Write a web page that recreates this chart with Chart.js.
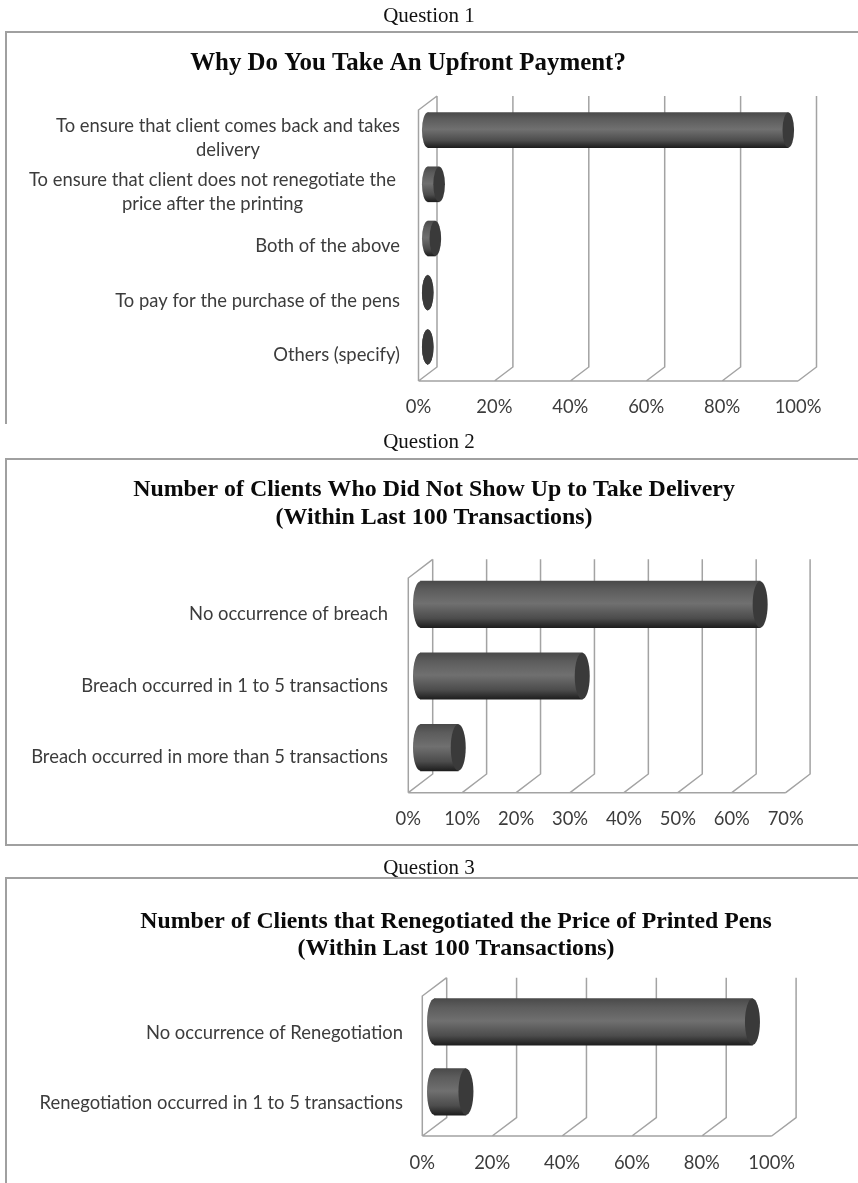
<!DOCTYPE html>
<html><head><meta charset="utf-8">
<script src="https://cdn.jsdelivr.net/npm/chart.js@4"></script>
<style>
html,body{margin:0;padding:0;background:#fff;overflow:hidden}
body{position:relative;width:858px;height:1183px}
.q{position:absolute;left:380px;width:98px;text-align:center;font:21px "Liberation Serif",serif;color:#111;line-height:24px;filter:blur(.35px)}
.frame{position:absolute;left:5px;right:-4px;border-left:2px solid #a0a0a0;border-top:2px solid #a0a0a0;box-sizing:border-box}
canvas{position:absolute;left:0;display:block;filter:blur(.35px)}
</style></head><body>
<div class="q" style="top:3px">Question 1</div>
<div class="q" style="top:429px">Question 2</div>
<div class="q" style="top:855px">Question 3</div>
<div class="frame" style="top:31px;height:393px"></div>
<div class="frame" style="top:458px;height:388px;border-bottom:2px solid #a0a0a0"></div>
<div class="frame" style="top:877px;height:306px"></div>
<canvas id="c1" width="858" height="392" style="top:32px"></canvas>
<canvas id="c2" width="858" height="386" style="top:459px"></canvas>
<canvas id="c3" width="858" height="305" style="top:878px"></canvas>
<script>
const titles1 = ["Why Do You Take An Upfront Payment?"];
const categories1 = [
  ["To ensure that client comes back and takes", "delivery"],
  ["To ensure that client does not renegotiate the", "price after the printing"],
  "Both of the above",
  "To pay for the purchase of the pens",
  "Others (specify)"
];
const values1 = [95, 3, 2, 0, 0];

const titles2 = ["Number of Clients Who Did Not Show Up to Take Delivery", "(Within Last 100 Transactions)"];
const categories2 = [
  "No occurrence of breach",
  "Breach occurred in 1 to 5 transactions",
  "Breach occurred in more than 5 transactions"
];
const values2 = [63, 30, 7];

const titles3 = ["Number of Clients that Renegotiated the Price of Printed Pens", "(Within Last 100 Transactions)"];
const categories3 = [
  "No occurrence of Renegotiation",
  "Renegotiation occurred in 1 to 5 transactions"
];
const values3 = [91, 9];

const LINE = "#a3a3a3", TEXT = "#3c3c3c", CAP = "#3a3a3a";
const FONT = "Lato";

function barGradient(ctx, y, h) {
  const g = ctx.createLinearGradient(0, y - h / 2, 0, y + h / 2);
  g.addColorStop(0, "#4a4a4a");
  g.addColorStop(0.18, "#5c5c5c");
  g.addColorStop(0.48, "#707070");
  g.addColorStop(0.8, "#4c4c4c");
  g.addColorStop(1, "#1e1e1e");
  return g;
}

function make(id, title, categories, values, cfg) {
  const canvas = document.getElementById(id);
  const H = canvas.height, W = canvas.width;
  const p = cfg.plot;
  const xAxisH = 40;
  const padRight = W - p.right;
  const padLeft = 2 * cfg.titleX - p.right;
  const titleLines = title.length * cfg.titleSize * cfg.titleLH;
  const titlePadTop = cfg.titleY - cfg.titleSize * cfg.titleLH / 2;

  const wall = {
    id: "wall",
    beforeDatasetsDraw(chart) {
      const c = chart.ctx, x = chart.scales.x, a = chart.chartArea;
      c.save();
      c.strokeStyle = LINE; c.lineWidth = 1.5; c.lineJoin = "miter";
      c.beginPath();
      c.moveTo(a.left, a.bottom); c.lineTo(a.right, a.bottom);
      c.moveTo(a.left, a.bottom); c.lineTo(a.left, a.top); c.lineTo(a.left + cfg.dx, a.top - cfg.dy);
      x.ticks.forEach(t => {
        const px = x.getPixelForValue(t.value);
        c.moveTo(px, a.bottom);
        c.lineTo(px + cfg.dx, a.bottom - cfg.dy);
        c.lineTo(px + cfg.dx, a.top - cfg.dy);
      });
      c.stroke();
      c.restore();
      // bars stand halfway through the depth of the floor
      c.save();
      c.translate(cfg.dx / 2, -cfg.dy / 2);
      chart.getDatasetMeta(0).data.forEach(el => {
        c.fillStyle = barGradient(c, el.y, cfg.thick);
        c.beginPath();
        c.ellipse(el.base, el.y, cfg.rx, cfg.thick / 2, 0, 0, Math.PI * 2);
        c.fill();
      });
    },
    afterDatasetsDraw(chart) {
      const c = chart.ctx;
      chart.getDatasetMeta(0).data.forEach(el => {
        c.fillStyle = CAP;
        c.beginPath();
        c.ellipse(el.x, el.y, cfg.rx, cfg.thick / 2, 0, 0, Math.PI * 2);
        c.fill();
      });
      c.restore();
      // category labels: right aligned blocks, each line centred in its block
      const y = chart.scales.y;
      c.save();
      c.font = cfg.labelSize + "px " + FONT;
      c.fillStyle = TEXT;
      c.textBaseline = "middle";
      c.textAlign = "center";
      y.ticks.forEach(t => {
        const raw = categories[t.value];
        const lines = Array.isArray(raw) ? raw : [raw];
        const w = Math.max(...lines.map(s => c.measureText(s).width));
        const cx = cfg.labelRight - w / 2 - (lines.length > 1 ? cfg.multiShift * t.value : 0);
        const py = y.getPixelForTick(t.value) + cfg.labelDy;
        lines.forEach((s, i) => c.fillText(s, cx, py + (i - (lines.length - 1) / 2) * cfg.labelLH));
      });
      c.restore();
    }
  };

  return new Chart(canvas, {
    type: "bar",
    plugins: [wall],
    data: {
      labels: categories,
      datasets: [{
        data: values,
        barThickness: cfg.thick,
        clip: false,
        borderWidth: 0,
        backgroundColor(c) {
          if (c.dataIndex === undefined) return "#5c5c5c";
          const py = c.chart.scales.y.getPixelForValue(c.dataIndex);
          return Number.isFinite(py) ? barGradient(c.chart.ctx, py, cfg.thick) : "#5c5c5c";
        }
      }]
    },
    options: {
      indexAxis: "y",
      responsive: false,
      animation: false,
      events: [],
      layout: { padding: { left: padLeft, right: padRight, top: 0, bottom: H - p.bottom - xAxisH } },
      plugins: {
        legend: { display: false },
        tooltip: { enabled: false },
        title: {
          display: true,
          text: title,
          color: "#0a0a0a",
          font: { family: "Liberation Serif", weight: "bold", size: cfg.titleSize, lineHeight: cfg.titleLH },
          padding: { top: titlePadTop, bottom: p.top - titlePadTop - titleLines }
        }
      },
      scales: {
        x: {
          min: 0, max: cfg.max,
          grid: { display: false, drawTicks: false },
          border: { display: false },
          ticks: {
            stepSize: cfg.step,
            maxRotation: 0,
            autoSkip: false,
            padding: cfg.tickPad,
            color: TEXT,
            font: { family: FONT, size: cfg.tickSize },
            callback: v => v + "%"
          },
          afterFit(s) { s.height = xAxisH; s.paddingLeft = 0; s.paddingRight = 0; }
        },
        y: {
          grid: { display: false, drawTicks: false },
          border: { display: false },
          ticks: { display: false },
          afterFit(s) { s.width = p.left - padLeft; s.paddingTop = 0; s.paddingBottom = 0; }
        }
      }
    }
  });
}

make("c1", titles1, categories1, values1, {
  plot: { left: 418.5, right: 798, top: 78, bottom: 349 },
  dx: 18.5, dy: 14, thick: 35, rx: 5.8, max: 100, step: 20,
  titleX: 408, titleY: 31.5, titleSize: 24.9, titleLH: 1.2,
  labelSize: 18.4, labelRight: 400, labelLH: 24, labelDy: 1, multiShift: 4, tickSize: 18.4, tickPad: 15.5
});
make("c2", titles2, categories2, values2, {
  plot: { left: 408.3, right: 785.7, top: 119, bottom: 333.7 },
  dx: 24.4, dy: 18.7, thick: 46.5, rx: 7.5, max: 70, step: 10,
  titleX: 434, titleY: 30.5, titleSize: 23.9, titleLH: 1.17,
  labelSize: 18.4, labelRight: 388, labelLH: 24, labelDy: 0.5, multiShift: 0, tickSize: 18.4, tickPad: 15
});
make("c3", titles3, categories3, values3, {
  plot: { left: 422.3, right: 771.7, top: 118, bottom: 258 },
  dx: 24.4, dy: 18.3, thick: 46.5, rx: 7.5, max: 100, step: 20,
  titleX: 456, titleY: 43.5, titleSize: 23.9, titleLH: 1.13,
  labelSize: 18.4, labelRight: 403, labelLH: 24, labelDy: 2, multiShift: 0, tickSize: 18.4, tickPad: 16.5
});
</script>
</body></html>
